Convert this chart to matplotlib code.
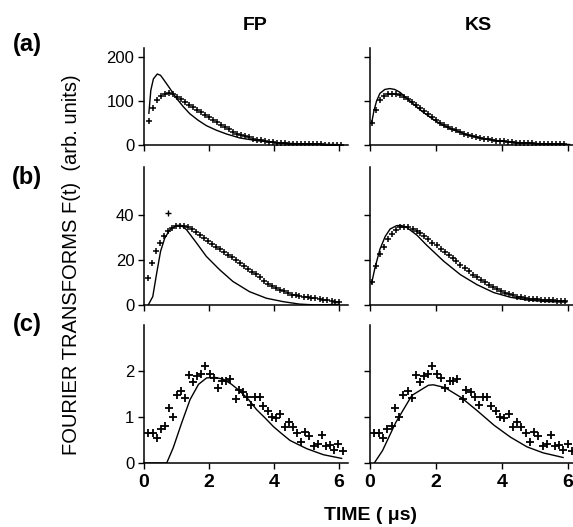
import matplotlib.pyplot as plt

plt.rcParams['font.family'] = ['Liberation Sans', 'DejaVu Sans']

# ---------------- data ----------------
# (a) FP
t_a_fp = [0.16, 0.29, 0.41, 0.53, 0.65, 0.78, 0.90, 1.02, 1.15, 1.27,
          1.39, 1.51, 1.64, 1.76, 1.88, 2.00, 2.13, 2.25, 2.37, 2.50,
          2.62, 2.74, 2.86, 2.99, 3.11, 3.23, 3.36, 3.48, 3.60, 3.72,
          3.85, 3.97, 4.09, 4.22, 4.34, 4.46, 4.58, 4.71, 4.83, 4.95,
          5.08, 5.20, 5.32, 5.44, 5.57, 5.69, 5.81, 5.94, 6.06]
f_a_fp = [53.5, 83, 102, 111.5, 116, 117, 116, 109, 104, 98,
          91, 85.5, 79.6, 75, 68.4, 62.5, 57.2, 51.3, 45.4, 40.9,
          36.4, 30.5, 26, 23, 20, 17.1, 14.1, 11.9, 10.4, 8.9,
          7.4, 5.9, 5.2, 4.5, 3.7, 3, 3, 2.2, 2.2, 1.5,
          1.5, 1.5, 1.5, 1.5, 0.7, 0.7, 0.7, 0.7, 0.7]
t_a_fp_fit = [0.15, 0.21, 0.29, 0.41, 0.51, 0.59, 0.80, 1.0, 1.21, 1.41, 1.67, 1.92,
              2.23, 2.54, 2.95, 3.46, 3.97, 4.48, 4.99, 5.51, 6.02]
f_a_fp_fit = [72, 124, 150, 161, 158, 150, 128, 106, 87, 71, 56, 44,
              33.5, 25, 16, 10, 6, 3.7, 2.2, 1.5, 0.8]

# (a) KS
t_a_ks = [0.05, 0.17, 0.29, 0.41, 0.54, 0.66, 0.78, 0.90, 1.02, 1.14,
          1.27, 1.39, 1.51, 1.63, 1.75, 1.87, 2.00, 2.12, 2.24, 2.36,
          2.48, 2.60, 2.73, 2.85, 2.97, 3.09, 3.21, 3.33, 3.46, 3.58,
          3.70, 3.82, 3.94, 4.06, 4.18, 4.31, 4.43, 4.55, 4.67, 4.79,
          4.91, 5.03, 5.16, 5.28, 5.40, 5.52, 5.64, 5.76, 5.89]
f_a_ks = [50, 80, 101, 111, 115, 116, 116, 114, 110, 104,
          98, 91, 84, 77, 70, 63, 57, 51, 46, 41,
          37, 33, 29, 26, 23, 20, 18, 16, 14, 12.5,
          11, 10, 9, 8, 7, 6, 5.5, 5, 4.5, 4,
          3.5, 3, 3, 2.5, 2.5, 2, 2, 2, 2]
t_a_ks_fit = [0.05, 0.12, 0.2, 0.3, 0.45, 0.6, 0.75, 0.9, 1.1, 1.3, 1.6, 1.9,
              2.2, 2.5, 3.0, 3.5, 4.0, 4.5, 5.0, 5.5, 6.05]
f_a_ks_fit = [50, 78, 100, 117, 126, 128, 126, 120, 107, 94, 75, 59,
              45, 35, 22, 14, 8.5, 5.5, 3.5, 2.2, 1.2]

# (b) FP
t_b_fp = [0.13, 0.25, 0.38, 0.50, 0.62, 0.74, 0.87, 0.99, 1.11, 1.24,
          1.36, 1.48, 1.60, 1.73, 1.85, 1.97, 2.09, 2.22, 2.34, 2.46,
          2.59, 2.71, 2.83, 2.95, 3.08, 3.20, 3.32, 3.44, 3.57, 3.69,
          3.81, 3.93, 4.06, 4.18, 4.30, 4.43, 4.55, 4.67, 4.79, 4.92,
          5.04, 5.16, 5.28, 5.41, 5.53, 5.65, 5.78, 5.90, 6.02]
f_b_fp = [12, 18.5, 23.7, 27.4, 30.4, 32.6, 34, 34.8, 35.1, 35,
          34.4, 33.5, 32.4, 31.1, 29.8, 28.3, 27, 25.8, 24.6, 23.5,
          22.3, 21, 19.7, 18.4, 17.2, 16, 14.8, 13.5, 12.2, 10.8,
          9.3, 8.3, 7.5, 6.8, 6.0, 5.2, 4.6, 4.3, 4.0, 3.7,
          3.4, 3.1, 2.9, 2.7, 2.4, 2.1, 1.8, 1.5, 1.3]
t_b_fp_out = [0.75]
f_b_fp_out = [40.7]
t_b_fp_fit = [0.13, 0.27, 0.39, 0.51, 0.64, 0.80, 1.0, 1.13, 1.31, 1.62, 1.92,
              2.33, 2.74, 3.25, 3.77, 4.28, 4.79, 5.3, 6.02]
f_b_fp_fit = [0, 3.7, 14, 23.7, 29.6, 33.3, 35.1, 35.3, 33.3, 27.4, 21.5,
              15.6, 10.4, 5.9, 3.0, 1.5, 0.4, 0.0, 0.3]

# (b) KS
t_b_ks = [0.07, 0.19, 0.31, 0.43, 0.56, 0.68, 0.80, 0.92, 1.04, 1.16,
          1.29, 1.41, 1.53, 1.65, 1.77, 1.89, 2.02, 2.14, 2.26, 2.38,
          2.50, 2.62, 2.74, 2.87, 2.99, 3.11, 3.23, 3.35, 3.47, 3.60,
          3.72, 3.84, 3.96, 4.08, 4.20, 4.33, 4.45, 4.57, 4.69, 4.81,
          4.93, 5.05, 5.18, 5.30, 5.42, 5.54, 5.66, 5.78, 5.91]
f_b_ks = [10, 17.2, 22.4, 25.8, 29.1, 31.3, 33.3, 34.3, 34.6, 34.3,
          33.6, 32.8, 31.8, 30.6, 29.1, 27.6, 26.4, 24.9, 23.6, 22.2,
          20.9, 19.4, 17.9, 16.4, 14.9, 13.4, 12.4, 11.2, 10, 9,
          7.9, 7, 6.1, 5.4, 4.8, 4.2, 3.7, 3.4, 3.1, 2.8,
          2.7, 2.5, 2.4, 2.2, 2.1, 2.1, 1.9, 1.9, 1.9]
t_b_ks_fit = [0.05, 0.15, 0.3, 0.46, 0.61, 0.81, 0.96, 1.11, 1.42, 1.72, 2.23,
              2.74, 3.24, 3.75, 4.26, 4.76, 5.27, 5.78, 5.96]
f_b_ks_fit = [9.7, 16.4, 24.6, 30.3, 33.6, 35.1, 35.1, 34.3, 30.9, 26.4, 19.4,
              13.4, 9.0, 5.5, 3.4, 2.2, 1.6, 1.3, 1.3]

# (c) same measured points in both columns
t_c = [0.13, 0.27, 0.39, 0.52, 0.66, 0.76, 0.88, 1.01, 1.14, 1.26,
       1.39, 1.51, 1.64, 1.77, 1.89, 2.02, 2.15, 2.28, 2.41, 2.53,
       2.65, 2.82, 2.92, 3.05, 3.18, 3.31, 3.43, 3.56, 3.68, 3.81,
       3.95, 4.07, 4.20, 4.33, 4.46, 4.58, 4.72, 4.85, 4.97, 5.10,
       5.23, 5.35, 5.48, 5.60, 5.72, 5.86, 5.99, 6.12]
f_c = [0.65, 0.65, 0.54, 0.73, 0.81, 1.19, 1.00, 1.47, 1.56, 1.41,
       1.91, 1.77, 1.89, 1.94, 2.11, 1.93, 1.85, 1.63, 1.79, 1.79,
       1.82, 1.40, 1.59, 1.55, 1.44, 1.27, 1.43, 1.43, 1.24, 1.14,
       0.99, 0.97, 1.06, 0.78, 0.89, 0.79, 0.65, 0.46, 0.67, 0.59,
       0.38, 0.41, 0.61, 0.36, 0.39, 0.28, 0.42, 0.26]
t_c_fp_fit = [0.0, 0.70, 0.90, 1.16, 1.42, 1.68, 1.93, 2.19, 2.45, 2.70, 2.96,
              3.22, 3.47, 3.73, 3.99, 4.24, 4.50, 4.76, 5.02, 5.53, 6.09]
f_c_fp_fit = [0.0, 0.0, 0.33, 0.87, 1.38, 1.71, 1.85, 1.86, 1.82, 1.71, 1.56,
              1.38, 1.16, 0.98, 0.79, 0.64, 0.49, 0.40, 0.31, 0.18, 0.10]
t_c_ks_fit = [0.13, 0.38, 0.78, 1.27, 1.77, 1.92, 2.27, 2.77, 3.26, 3.76,
              4.26, 4.76, 5.25, 5.85]
f_c_ks_fit = [0.0, 0.27, 0.88, 1.47, 1.69, 1.70, 1.64, 1.42, 1.13, 0.82,
              0.56, 0.35, 0.22, 0.12]

row_ylim = [220, 61, 3.0]
row_yticks = [[0, 100, 200], [0, 20, 40], [0, 1, 2]]
row_labels = ['(a)', '(b)', '(c)']
col_titles = ['FP', 'KS']
xticks = [0, 2, 4, 6]

# ---------------- layout (pixel based) ----------------
W, H = 573, 527
fig = plt.figure(figsize=(W / 100, H / 100), dpi=100)

cols_px = [(144, 6.3 * 32.45), (370, 6.3 * 33.0)]
rows_px = [(48, 145), (167, 305), (325, 463)]

panels = [
    [(t_a_fp, f_a_fp, t_a_fp_fit, f_a_fp_fit), (t_a_ks, f_a_ks, t_a_ks_fit, f_a_ks_fit)],
    [(t_b_fp, f_b_fp, t_b_fp_fit, f_b_fp_fit), (t_b_ks, f_b_ks, t_b_ks_fit, f_b_ks_fit)],
    [(t_c, f_c, t_c_fp_fit, f_c_fp_fit), (t_c, f_c, t_c_ks_fit, f_c_ks_fit)],
]

for r in range(3):
    top, bot = rows_px[r]
    ms, mew = (6, 1.3) if r == 2 else (5, 1.1)
    for c in range(2):
        x0, w = cols_px[c]
        ax = fig.add_axes([x0 / W, 1 - bot / H, w / W, (bot - top) / H])
        tp, fp, tf, ff = panels[r][c]
        ax.plot(tf, ff, color='black', lw=1.0)
        ax.plot(tp, fp, '+', color='black', ms=ms, mew=mew)
        if r == 1 and c == 0:
            ax.plot(t_b_fp_out, f_b_fp_out, '+', color='black', ms=4, mew=1.0)

        ax.set_xlim(0, 6.3)
        ax.set_ylim(0, row_ylim[r])
        ax.set_xticks(xticks)
        ax.set_yticks(row_yticks[r])
        for s in ['top', 'right']:
            ax.spines[s].set_visible(False)
        for s in ['left', 'bottom']:
            ax.spines[s].set_linewidth(1.1)
        ax.tick_params(direction='out', length=4, width=1.0, pad=3)
        ax.tick_params(axis='y', labelsize=12)
        ax.tick_params(axis='x', labelsize=14, pad=4)
        if c == 1:
            ax.set_yticklabels([])
        if r < 2:
            ax.set_xticklabels([])
        else:
            for lab in ax.get_xticklabels():
                lab.set_fontweight('bold')

# column titles
fig.text(255 / W, 1 - 25 / H, col_titles[0], ha='center', va='center',
         fontsize=14, fontweight='bold')
fig.text(478 / W, 1 - 25 / H, col_titles[1], ha='center', va='center',
         fontsize=14, fontweight='bold')

# row labels
for lab, ypx in zip(row_labels, [44, 177, 324]):
    fig.text(27 / W, 1 - ypx / H, lab, ha='center', va='center',
             fontsize=17, fontweight='bold')

fig.text(72 / W, 1 - 265 / H, 'FOURIER TRANSFORMS F(t)  (arb. units)',
         rotation=90, ha='center', va='center', fontsize=14.5)
fig.text(370 / W, 1 - 516 / H, 'TIME ( μs)', ha='center', va='center',
         fontsize=14, fontweight='bold')

fig.savefig('out.png', dpi=100)
